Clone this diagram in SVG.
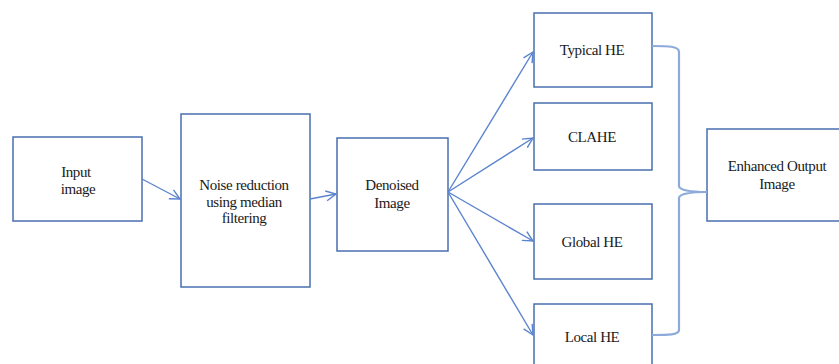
<svg xmlns="http://www.w3.org/2000/svg" width="839" height="364" viewBox="0 0 839 364">
<style>
.box{fill:#fff;stroke:#4a6fb0;stroke-width:1.5}
.t{font-family:'Liberation Serif','DejaVu Serif',serif;font-size:15px;fill:#1a1a1a;text-anchor:middle;letter-spacing:-0.4px}
.c{fill:none;stroke:#5b84cf;stroke-width:1.4}
.brace{fill:none;stroke:#8eaadb;stroke-width:2.2}
</style>
<defs>
<marker id="a" viewBox="0 0 12 12" refX="11" refY="6" markerWidth="12" markerHeight="12" markerUnits="userSpaceOnUse" orient="auto">
<path d="M1,1 L11,6 L1,11" fill="none" stroke="#5b84cf" stroke-width="1.4"/>
</marker>
</defs>
<rect width="839" height="364" fill="#fff"/>
<g id="input"><rect class="box" x="13" y="137" width="129" height="84"/><text class="t" x="76" y="177">Input</text><text class="t" x="78" y="194">image</text></g>
<g id="noise"><rect class="box" x="181" y="114" width="129" height="173"/><text class="t" x="244" y="190">Noise reduction</text><text class="t" x="244" y="207">using median</text><text class="t" x="244" y="223">filtering</text></g>
<g id="denoised"><rect class="box" x="337" y="138" width="111" height="113"/><text class="t" x="392" y="190">Denoised</text><text class="t" x="392" y="208">Image</text></g>
<g id="typical"><rect class="box" x="534" y="13" width="118" height="74"/><text class="t" x="592" y="55">Typical HE</text></g>
<g id="clahe"><rect class="box" x="534" y="103" width="118" height="67"/><text class="t" x="592" y="142">CLAHE</text></g>
<g id="global"><rect class="box" x="534" y="204" width="118" height="75"/><text class="t" x="592" y="247">Global HE</text></g>
<g id="local"><rect class="box" x="534" y="304" width="118" height="70"/><text class="t" x="592" y="342">Local HE</text></g>
<g id="enhanced"><rect class="box" x="707" y="129" width="140" height="92"/><text class="t" x="777" y="171">Enhanced Output</text><text class="t" x="777" y="189">Image</text></g>
<g id="connectors">
<line class="c" x1="142" y1="179" x2="180" y2="199" marker-end="url(#a)"/>
<line class="c" x1="310" y1="199" x2="336" y2="194" marker-end="url(#a)"/>
<line class="c" x1="448" y1="192" x2="533" y2="52" marker-end="url(#a)"/>
<line class="c" x1="448" y1="192" x2="533" y2="138" marker-end="url(#a)"/>
<line class="c" x1="448" y1="192" x2="533" y2="241" marker-end="url(#a)"/>
<line class="c" x1="448" y1="192" x2="533" y2="335" marker-end="url(#a)"/>
<path class="brace" d="M652,46 C668,46 679,46 679,52 L679,186 C679,190 690,192 707,192 C690,192 679,194 679,198 L679,330 C679,335 668,335 652,335"/>
</g>
</svg>
